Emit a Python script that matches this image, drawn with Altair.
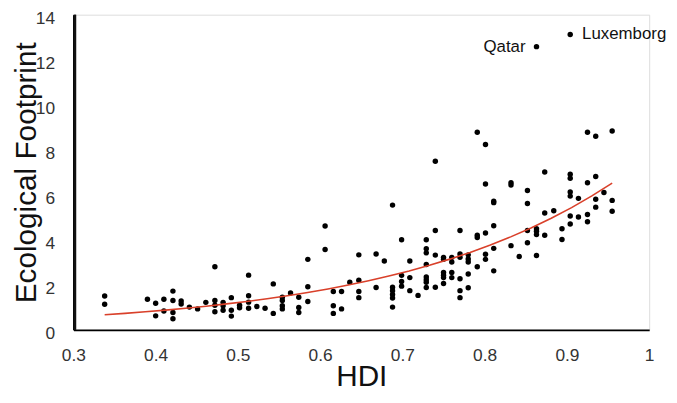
import altair as alt
import pandas as pd

# HDI values (columns of countries) and the ecological footprints found at each
hdi_values = [0.338, 0.390, 0.400, 0.410, 0.421, 0.431, 0.441, 0.451, 0.461, 0.472,
              0.482, 0.492, 0.502, 0.513, 0.523, 0.533, 0.543, 0.554, 0.564, 0.574,
              0.585, 0.606, 0.616, 0.626, 0.636, 0.647, 0.668, 0.678, 0.688, 0.699,
              0.709, 0.719, 0.729, 0.740, 0.750, 0.760, 0.770, 0.780, 0.791, 0.801,
              0.811, 0.832, 0.842, 0.852, 0.863, 0.873, 0.884, 0.894, 0.904, 0.914,
              0.925, 0.935, 0.945, 0.955]
footprints = [
    [1.50, 1.14], [1.36], [1.18, 0.62], [1.36, 0.84], [1.72, 1.30, 0.77, 0.49],
    [1.28, 1.15], [1.01], [0.93], [1.22], [2.80, 1.30, 1.09, 0.80],
    [1.22, 1.07, 0.87], [1.43, 0.87, 0.61], [1.09, 0.98], [2.43, 1.51, 1.23, 0.96], [1.04],
    [0.96], [2.04, 0.73], [1.45, 1.30, 1.07, 0.93], [1.64], [1.45, 0.99, 0.77],
    [3.13, 1.91, 1.26], [4.61, 3.57], [1.70, 1.07, 0.73], [1.70, 0.93], [2.11],
    [3.33, 2.20, 1.70, 1.43], [3.37, 1.88], [3.06], [5.54, 1.89, 1.74, 1.57, 1.41, 1.01],
    [4.00, 2.42, 2.15, 1.94],
    [3.06, 2.32, 1.74], [1.53], [4.00, 3.60, 3.42, 2.90, 2.35, 2.23, 2.11, 1.88],
    [7.49, 4.41, 3.32, 1.89], [3.22, 3.13, 2.55, 2.43, 2.32, 2.06],
    [3.22, 3.01, 2.55, 2.32], [4.41, 3.37, 3.22, 2.27, 1.74, 1.43],
    [3.33, 3.15, 3.01, 2.48, 1.87], [8.78, 4.20, 4.10, 2.80], [8.23, 6.48, 4.30, 3.36, 3.13],
    [5.71, 5.65, 4.62, 3.62, 2.62], [6.53, 6.43, 3.74], [3.26], [6.19, 5.61, 4.41, 3.87],
    [12.58, 4.49, 4.38, 4.23, 3.30], [7.01, 5.19, 4.20], [5.29], [4.49, 4.01],
    [13.12, 6.91, 6.73, 6.12, 5.94, 5.06, 4.70], [5.84, 5.01],
    [8.78, 6.53, 5.12, 4.80], [8.60, 6.81, 5.80, 5.45], [6.10], [8.83, 5.75, 5.27]]

label_names = ["Qatar", "Luxemborg"]
label_hdi = [0.863, 0.904]
label_ef = [12.58, 13.12]
label_side = ["left", "right"]

x_ticks = [0.3, 0.4, 0.5, 0.6, 0.7, 0.8, 0.9, 1.0]
y_ticks = [0, 2, 4, 6, 8, 10, 12, 14]

rows = [{"HDI": h, "EF": v} for h, vals in zip(hdi_values, footprints) for v in vals]
df = pd.DataFrame(rows)
lab = pd.DataFrame({"name": label_names, "HDI": label_hdi, "EF": label_ef, "side": label_side})

FONT = "Liberation Sans"
W, H = 581, 318

x_scale = alt.Scale(domain=[0.3, 1.0], nice=False, zero=False)
y_scale = alt.Scale(domain=[0, 14], nice=False)

x_axis = alt.Axis(title="HDI", values=x_ticks, format=".1~f", grid=False, domain=True,
                  ticks=False, tickSize=0, labelPadding=17, labelFontSize=17.5,
                  labelFlush=False, labelColor="#333333", labelFont=FONT,
                  domainColor="#000000", domainWidth=1.8, titleFontSize=30,
                  titleFont=FONT, titleFontWeight="normal", titleColor="#111111",
                  titleBaseline="alphabetic", titleY=56)
y_axis = alt.Axis(title="Ecological Footprint", values=y_ticks, grid=False, domain=True,
                  ticks=False, tickSize=0, labelPadding=19, labelFontSize=17.5,
                  labelFlush=False, labelColor="#333333", labelFont=FONT,
                  labelOffset=4, domainColor="#000000", domainWidth=1.8,
                  titleFontSize=30, titleFont=FONT, titleFontWeight="normal",
                  titleColor="#111111", titleBaseline="top", titleX=-62)

x_enc = alt.X("HDI:Q", scale=x_scale, axis=x_axis)
y_enc = alt.Y("EF:Q", scale=y_scale, axis=y_axis)

points = alt.Chart(df).mark_circle(size=30, color="#000000", opacity=1).encode(x=x_enc, y=y_enc)

# Excel-style exponential trend line: least squares on log(EF), then back-transformed
trend = (
    alt.Chart(df)
    .transform_calculate(logEF="log(datum.EF)")
    .transform_regression("HDI", "logEF", method="poly", order=1)
    .transform_calculate(EF="exp(datum.logEF)")
    .mark_line(color="#d9402a", strokeWidth=1.6)
    .encode(x=x_enc, y=y_enc)
)

# vertical axis line at the left edge of the plot
y_line = alt.Chart(lab).mark_rule(color="#111111", strokeWidth=2.5).encode(
    x=alt.value(1.5), y=alt.value(0), y2=alt.value(H))

text_left = alt.Chart(lab).transform_filter(alt.datum.side == "left").mark_text(
    align="right", baseline="middle", dx=-11, fontSize=17, font=FONT, color="#111111"
).encode(x=x_enc, y=y_enc, text="name:N")
text_right = alt.Chart(lab).transform_filter(alt.datum.side == "right").mark_text(
    align="left", baseline="middle", dx=12, fontSize=17, font=FONT, color="#111111"
).encode(x=x_enc, y=y_enc, text="name:N")

chart = alt.layer(points, trend, y_line, text_left, text_right).properties(
    width=W, height=H,
    autosize=alt.AutoSizeParams(type="none"),
    padding={"left": 66, "top": 5, "right": 20, "bottom": 62},
).configure_view(stroke=None).configure(background="#ffffff")

chart.save("out.html", embed_options={"renderer": "svg", "actions": False})
